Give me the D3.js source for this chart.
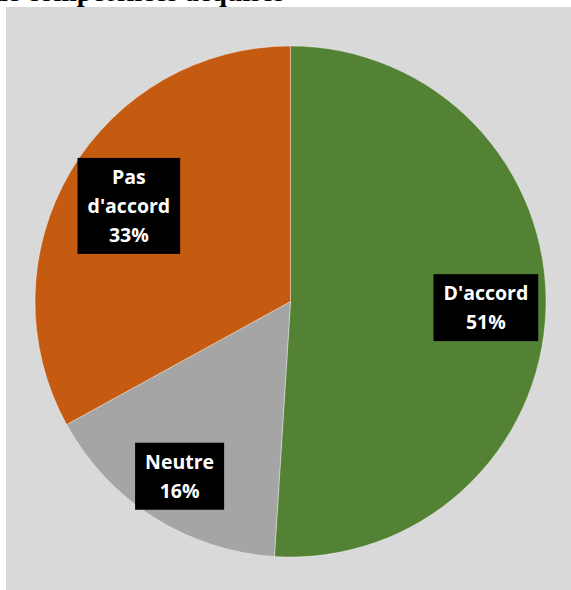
<!DOCTYPE html>
<html>
<head>
<meta charset="utf-8">
<script src="https://cdn.jsdelivr.net/npm/d3@7"></script>
<style>
  html, body { margin: 0; padding: 0; background: #ffffff; }
  svg { display: block; }
</style>
</head>
<body>
<script>
// ---- data ----
const categories = ["D'accord", "Neutre", "Pas d'accord"];
const values = [51, 16, 33];
const colors = ["#548235", "#A5A5A5", "#C55A11"];
const titleText = "de compétences acquises";

// ---- layout ----
const W = 571, H = 590;
const cx = 290.5, cy = 301.5, R = 255.5;
const labelRadius = [0.765, 0.81, 0.735];
const fontSize = 19.5, lineH = 29, padX = 10, padY = 4.5, wrapMax = 100;

const svg = d3.select("body").append("svg").attr("width", W).attr("height", H);

// clipped title remnant at the very top (only its lower edge is visible)
svg.append("text")
  .attr("x", -8).attr("y", 1)
  .attr("font-family", "'Liberation Serif', 'Times New Roman', serif")
  .attr("font-weight", "bold").attr("font-size", 28)
  .attr("fill", "#000")
  .text(titleText);

svg.append("rect")
  .attr("x", 6).attr("y", 7).attr("width", W - 6).attr("height", H - 7)
  .attr("fill", "#D9D9D9");

const pie = d3.pie().sort(null).value(d => d);
const arcs = pie(values);
const arc = d3.arc().innerRadius(0).outerRadius(R);

const g = svg.append("g").attr("transform", `translate(${cx},${cy})`);

g.selectAll("path.slice").data(arcs).join("path")
  .attr("class", "slice")
  .attr("d", arc)
  .attr("fill", (d, i) => colors[i])
  .attr("stroke", "#ffffff").attr("stroke-opacity", 0.45).attr("stroke-width", 0.8);

// labels
const total = d3.sum(values);
arcs.forEach((d, i) => {
  const [lx, ly] = d3.arc().innerRadius(R * labelRadius[i]).outerRadius(R * labelRadius[i]).centroid(d);
  const lg = g.append("g").attr("transform", `translate(${lx},${ly})`);
  const pct = d3.format(".0%")(values[i] / total);

  // wrap the category name
  const tmp = lg.append("text").attr("font-family", "'Open Sans', sans-serif")
    .attr("font-weight", "bold").attr("font-size", fontSize).text(categories[i]);
  let lines;
  if (tmp.node().getComputedTextLength() > wrapMax) {
    lines = categories[i].split(" ");
  } else {
    lines = [categories[i]];
  }
  tmp.remove();
  lines.push(pct);

  const rect = lg.append("rect").attr("fill", "#000");
  const t = lg.append("text")
    .attr("font-family", "'Open Sans', sans-serif")
    .attr("font-weight", "bold").attr("font-size", fontSize)
    .attr("fill", "#fff").attr("text-anchor", "middle");
  const n = lines.length;
  lines.forEach((s, k) => {
    t.append("tspan").attr("x", 0)
      .attr("y", (k - (n - 1) / 2) * lineH)
      .attr("dy", "0.35em")
      .text(s);
  });
  let maxW = 0;
  t.selectAll("tspan").each(function () { maxW = Math.max(maxW, this.getComputedTextLength()); });
  const bw = maxW + 2 * padX, bh = n * lineH + 2 * padY;
  rect.attr("x", -bw / 2).attr("y", -bh / 2).attr("width", bw).attr("height", bh);
});
</script>
</body>
</html>
